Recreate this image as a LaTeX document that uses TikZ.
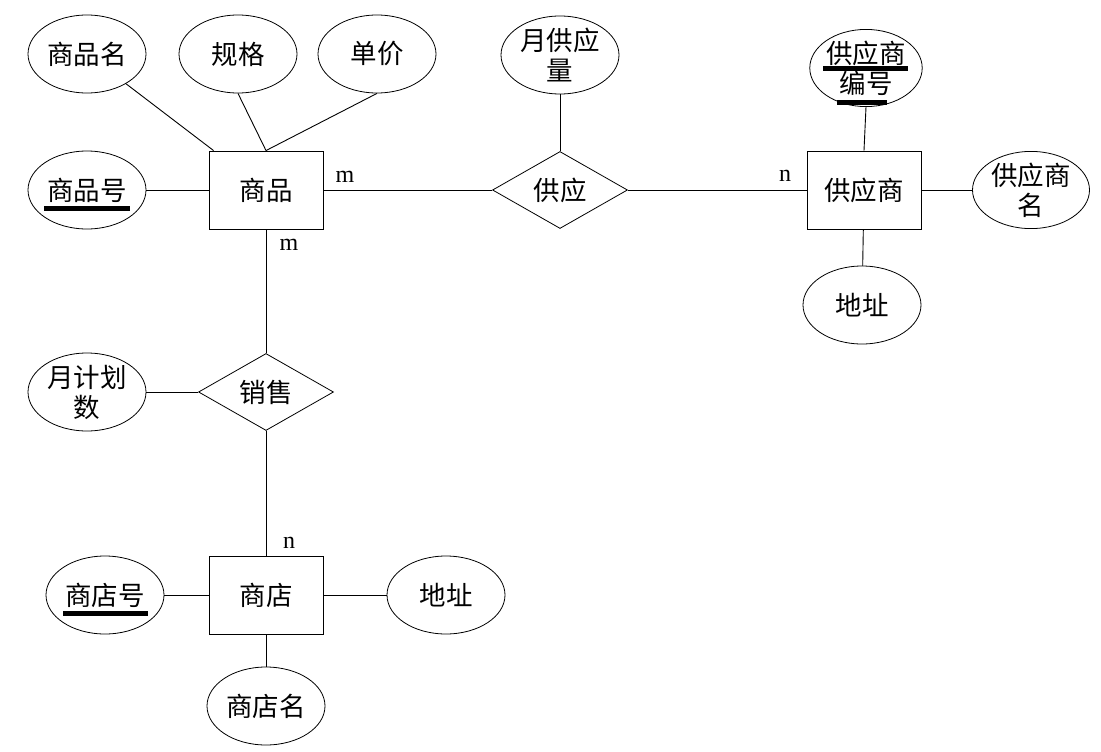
\documentclass[tikz,border=0pt]{standalone}
\usepackage{fontspec}
\newfontfamily\cjk{Noto Sans CJK SC}
\setmainfont{Liberation Serif}
\usetikzlibrary{shapes.geometric}
\begin{document}
\begin{tikzpicture}[x=1pt,y=-1pt,
  every node/.style={font=\cjk\fontsize{26.5}{30}\selectfont, inner sep=0pt},
  attr/.style={draw, ellipse, line width=0.8pt, minimum width=118pt, minimum height=78pt, align=center},
  ent/.style={draw, rectangle, line width=0.9pt, minimum width=114pt, minimum height=78pt},
  rel/.style={draw, diamond, line width=0.8pt, minimum width=135pt, minimum height=77pt, aspect=1.75},
  card/.style={font=\fontsize{24}{26}\selectfont},
  link/.style={line width=0.9pt},
  keybar/.style={fill=black}]
\useasboundingbox (0,0) rectangle (1101,752);
% entities
\node[ent] (sp) at (266,190) {商品};
\node[ent] (gys) at (864,190) {供应商};
\node[ent] (sd) at (266,595) {商店};
% relations
\node[rel] (gy) at (560,190) {供应};
\node[rel] (xs) at (266,392) {销售};
% attributes
\node[attr] (spm) at (87,54) {商品名};
\node[attr] (gg) at (238,54) {规格};
\node[attr] (dj) at (377,54) {单价};
\node[attr] (sph) at (87,190) {商品号};
\node[attr] (ygyl) at (560,55) {月供应\\量};
\node[attr, minimum width=106pt, minimum height=70pt] (gysbh) at (866,68) {供应商\\编号};
\node[attr, minimum width=117pt, minimum height=77pt] (gysm) at (1031,190) {供应商\\名};
\node[attr] (dz1) at (862,305) {地址};
\node[attr] (yjhs) at (87,392) {月计划\\数};
\node[attr] (sdh) at (105,595) {商店号};
\node[attr] (dz2) at (446,595) {地址};
\node[attr] (sdm) at (266,706) {商店名};
% key underlines
\fill[keybar] (44,206) rectangle (130,211);
\fill[keybar] (63,611) rectangle (148,616);
\fill[keybar] (823,66) rectangle (908,71);
\fill[keybar] (837,100) rectangle (887,105);
% connectors
\draw[link] (spm) -- ([xshift=5pt]sp.north west);
\draw[link] (gg.south) -- (sp.north);
\draw[link] (dj.south) -- (sp.north);
\draw[link] (sph) -- (sp);
\draw[link] (sp) -- (gy);
\draw[link] (gy) -- (gys);
\draw[link] (ygyl) -- (gy);
\draw[link] (gysbh.south) -- (gys.north);
\draw[link] (gys) -- (gysm);
\draw[link] (gys) -- (dz1);
\draw[link] (sp) -- (xs);
\draw[link] (yjhs) -- (xs);
\draw[link] (xs) -- (sd);
\draw[link] (sdh) -- (sd);
\draw[link] (sd) -- (dz2);
\draw[link] (sd) -- (sdm);
% cardinalities
\node[card] (c1) at (345,177) {m};
\node[card] (c2) at (785,176) {n};
\node[card] (c3) at (289,245) {m};
\node[card] (c4) at (289,543) {n};
\end{tikzpicture}
\end{document}
